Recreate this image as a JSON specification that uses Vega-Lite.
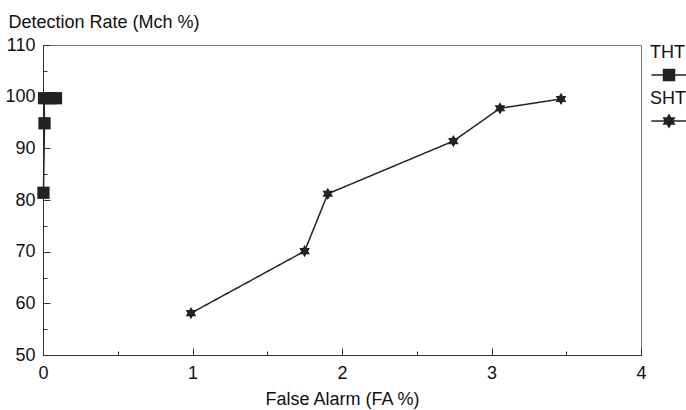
{
  "$schema": "https://vega.github.io/schema/vega-lite/v6.json",
  "width": 598,
  "height": 310,
  "autosize": {"type": "none"},
  "padding": {"left": 43, "top": 45, "right": 45, "bottom": 55},
  "config": {
    "font": "Liberation Sans",
    "view": {"stroke": "#777", "strokeWidth": 1},
    "axis": {
      "labelFont": "Liberation Sans",
      "titleFont": "Liberation Sans",
      "labelFontSize": 18,
      "titleFontSize": 18,
      "titleFontWeight": "normal",
      "labelColor": "#111",
      "titleColor": "#111",
      "grid": false,
      "domainColor": "#333",
      "tickColor": "#333",
      "tickWidth": 1
    },
    "legend": {
      "labelFont": "Liberation Sans",
      "labelFontSize": 18,
      "labelColor": "#111",
      "symbolSize": 484,
      "symbolFillColor": "#222",
      "symbolStrokeColor": "#222",
      "symbolStrokeWidth": 1.5,
      "symbolOpacity": 1
    }
  },
  "data": {
    "values": [
      {"series": "THT", "curve": "THT", "i": 0, "fa": 0.003, "dr": 81.4},
      {"series": "THT", "curve": "THT", "i": 1, "fa": 0.01, "dr": 94.85},
      {"series": "THT", "curve": "THT", "i": 2, "fa": 0.007, "dr": 99.7},
      {"series": "THT", "curve": "THT", "i": 3, "fa": 0.05, "dr": 99.7},
      {"series": "THT", "curve": "THT", "i": 4, "fa": 0.087, "dr": 99.7},
      {"series": "SHT", "curve": "SHT", "i": 0, "fa": 0.99, "dr": 58.1},
      {"series": "SHT", "curve": "SHT", "i": 1, "fa": 1.75, "dr": 70.1},
      {"series": "SHT", "curve": "SHT", "i": 2, "fa": 1.905, "dr": 81.2},
      {"series": "SHT", "curve": "SHT", "i": 3, "fa": 2.745, "dr": 91.4},
      {"series": "SHT", "curve": "SHT", "i": 4, "fa": 3.057, "dr": 97.75},
      {"series": "SHT", "curve": "SHT", "i": 5, "fa": 3.465, "dr": 99.55}
    ]
  },
  "layer": [
    {
      "encoding": {
        "x": {
          "field": "fa", "type": "quantitative",
          "scale": {"domain": [0, 4], "nice": false, "zero": false},
          "axis": {
            "orient": "bottom",
            "values": [0, 1, 2, 3, 4],
            "tickSize": -7,
            "labelPadding": 16,
            "title": "False Alarm (FA %)",
            "titleX": 299,
            "titleY": 49,
            "titleAlign": "center",
            "titleBaseline": "alphabetic",
            "labelFlush": false
          }
        },
        "y": {
          "field": "dr", "type": "quantitative",
          "scale": {"domain": [50, 110], "nice": false, "zero": false},
          "axis": {
            "orient": "left",
            "values": [50, 60, 70, 80, 90, 100, 110],
            "tickSize": -7,
            "labelPadding": 15,
            "title": "Detection Rate (Mch %)",
            "titleAngle": 0,
            "titleX": -35,
            "titleY": -18,
            "titleAlign": "left",
            "titleBaseline": "alphabetic"
          }
        }
      },
      "layer": [
        {
          "mark": {"type": "line", "strokeWidth": 1.5},
          "encoding": {
            "color": {
              "field": "series", "type": "nominal",
              "scale": {"domain": ["THT", "SHT"], "range": ["#222", "#222"]},
              "legend": {
                "title": null,
                "values": ["THT"],
                "orient": "none",
                "legendX": 614,
                "legendY": 18,
                "labelOffset": -31,
                "symbolType": "M-1.6,0H1.6M-0.5,-0.5H0.5V0.5H-0.5Z",
                "encoding": {
                  "labels": {"dy": {"value": -22}},
                  "symbols": {"fill": {"value": "#222"}, "stroke": {"value": "#222"}, "strokeWidth": {"value": 1.5}, "opacity": {"value": 1}}
                }
              }
            },
            "strokeDash": {
              "field": "curve", "type": "nominal",
              "scale": {"domain": ["SHT", "THT"], "range": [[1, 0], [1, 0]]},
              "legend": {
                "title": null,
                "values": ["SHT"],
                "orient": "none",
                "legendX": 614,
                "legendY": 64,
                "labelOffset": -31,
                "symbolType": "M-1.6,0H1.6M0,-0.55L0.476,0.275L-0.476,0.275ZM0,0.55L-0.476,-0.275L0.476,-0.275Z",
                "encoding": {
                  "labels": {"dy": {"value": -22}},
                  "symbols": {"fill": {"value": "#222"}, "stroke": {"value": "#222"}, "strokeWidth": {"value": 1.5}, "opacity": {"value": 1}, "strokeDash": {"value": [1, 0]}}
                }
              }
            },
            "order": {"field": "i", "type": "quantitative"}
          }
        },
        {
          "mark": {"type": "point", "filled": true, "color": "#222", "opacity": 1, "size": 150},
          "encoding": {
            "shape": {
              "condition": {"test": "datum.series === 'THT'", "value": "square"},
              "value": "M0,-1L0.866,0.5L-0.866,0.5Z M0,1L-0.866,-0.5L0.866,-0.5Z"
            }
          }
        }
      ]
    },
    {
      "mark": {"type": "point", "opacity": 0},
      "encoding": {
        "x": {
          "field": "fa", "type": "quantitative",
          "scale": {"domain": [0, 4], "nice": false, "zero": false},
          "axis": {"orient": "bottom", "values": [0.5, 1.5, 2.5, 3.5], "tickSize": -4, "labels": false, "domain": false, "title": null}
        },
        "y": {
          "field": "dr", "type": "quantitative",
          "scale": {"domain": [50, 110], "nice": false, "zero": false},
          "axis": {"orient": "left", "values": [55, 65, 75, 85, 95, 105], "tickSize": -4, "labels": false, "domain": false, "title": null}
        }
      }
    }
  ],
  "resolve": {"scale": {"x": "independent", "y": "independent"}}
}
